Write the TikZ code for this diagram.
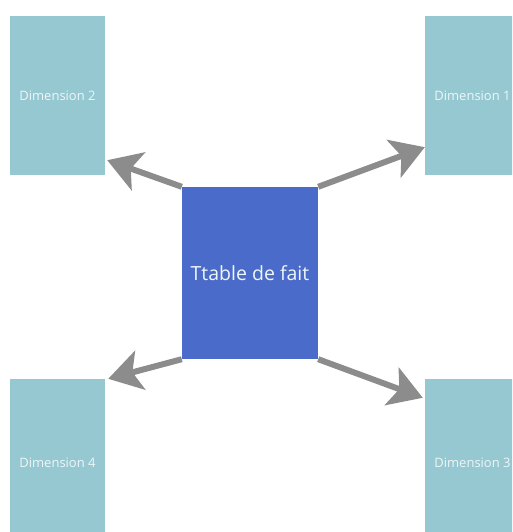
\documentclass[tikz,border=0pt]{standalone}
\usepackage{fontspec}
\setmainfont{Open Sans}
\usetikzlibrary{arrows.meta,calc}
\definecolor{dimfill}{HTML}{96C8D2}
\definecolor{factfill}{HTML}{4A6BC9}
\definecolor{linkgray}{HTML}{8C8C8C}
\definecolor{labelpale}{HTML}{EEF6F8}
\begin{document}
\begin{tikzpicture}[x=1pt,y=-1pt,
  dimbox/.style={rectangle, fill=dimfill, inner sep=0pt,
    minimum width=95pt, text=labelpale,
    font=\fontsize{13}{15}\selectfont},
  factbox/.style={rectangle, fill=factfill, inner sep=0pt,
    minimum width=136pt, minimum height=172pt, text=labelpale,
    font=\fontsize{19.5}{23}\selectfont},
  link/.style={draw=linkgray, line width=6pt,
    -{Stealth[length=33pt,width=40pt,inset=8pt]}}]
\useasboundingbox (0,0) rectangle (512,532);
\clip (0,0) rectangle (512,532);
% dimension tables
\node[dimbox, minimum height=159pt] (d2) at (57.5,95.5) {Dimension 2};
\node[dimbox, minimum height=159pt] (d1) at (472.5,95.5) {Dimension 1};
\node[dimbox, minimum height=168pt] (d4) at (57.5,463) {Dimension 4};
\node[dimbox, minimum height=168pt] (d3) at (472.5,463) {Dimension 3};
% fact table
\node[factbox] (f) at (250,273) {Ttable de fait};
% links from the fact table to each dimension
\draw[link] (f.north west) -- ($(d2.south east)+(2,-15)$);
\draw[link] (f.north east) -- ($(d1.south west)+(0,-28)$);
\draw[link] (f.south west) -- ($(d4.north east)+(3,0)$);
\draw[link] (f.south east) -- ($(d3.north west)+(-2,19)$);
\end{tikzpicture}
\end{document}
